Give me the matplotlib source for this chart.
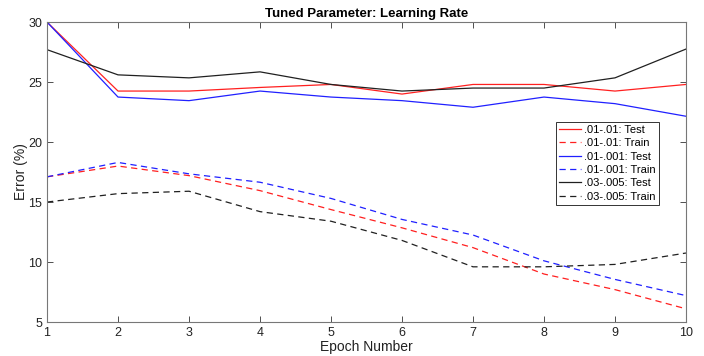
import matplotlib
matplotlib.use("Agg")
import matplotlib.pyplot as plt

plt.rcParams["font.family"] = ["Liberation Sans", "DejaVu Sans"]

# Datos
epocas = [1, 2, 3, 4, 5, 6, 7, 8, 9, 10]
rojo_test = [30.0, 24.25, 24.25, 24.55, 24.8, 24.0, 24.8, 24.8, 24.25, 24.8]
rojo_train = [17.1, 18.0, 17.2, 15.95, 14.37, 12.85, 11.2, 9.0, 7.7, 6.1]
azul_test = [30.0, 23.75, 23.45, 24.25, 23.75, 23.45, 22.9, 23.75, 23.2, 22.15]
azul_train = [17.1, 18.3, 17.35, 16.65, 15.3, 13.55, 12.25, 10.1, 8.55, 7.2]
negro_test = [27.7, 25.6, 25.35, 25.85, 24.8, 24.25, 24.5, 24.5, 25.35, 27.75]
negro_train = [15.0, 15.7, 15.9, 14.2, 13.4, 11.8, 9.6, 9.6, 9.8, 10.75]

etiquetas = [".01-.01: Test", ".01-.01: Train", ".01-.001: Test",
             ".01-.001: Train", ".03-.005: Test", ".03-.005: Train"]

fig = plt.figure(figsize=(7.04, 3.56), dpi=100)
ax = fig.add_axes([0.0668, 0.0955, 0.9076, 0.8425])

guiones = (0, (5, 3.5))
ax.plot(epocas, rojo_test, color="#ff2020", lw=0.9, label=etiquetas[0])
ax.plot(epocas, rojo_train, color="#ff2020", lw=0.9, ls=guiones, label=etiquetas[1])
ax.plot(epocas, azul_test, color="#2020ff", lw=0.9, label=etiquetas[2])
ax.plot(epocas, azul_train, color="#2020ff", lw=0.9, ls=guiones, label=etiquetas[3])
ax.plot(epocas, negro_test, color="#202020", lw=0.9, label=etiquetas[4])
ax.plot(epocas, negro_train, color="#202020", lw=0.9, ls=guiones, label=etiquetas[5])

ax.set_xlim(1, 10)
ax.set_ylim(5, 30)
ax.set_xticks(epocas)
ax.set_yticks([5, 10, 15, 20, 25, 30])
ax.tick_params(direction="in", top=True, right=True, labelsize=9,
               length=4, width=0.6, color="#333333", labelcolor="#222222")
for s in ax.spines.values():
    s.set_color("#777777")
    s.set_linewidth(0.8)

ax.set_title("Tuned Parameter: Learning Rate", fontsize=9.5, fontweight="bold", pad=4)
ax.set_xlabel("Epoch Number", fontsize=10, labelpad=1, color="#222222")
ax.set_ylabel("Error (%)", fontsize=10, labelpad=0, color="#222222")

leg = ax.legend(loc="upper right", bbox_to_anchor=(0.957, 0.668), fontsize=8,
                fancybox=False, framealpha=1, edgecolor="#333333",
                handlelength=2.0, handletextpad=0.2, borderpad=0.3,
                labelspacing=0.3, borderaxespad=0)
leg.get_frame().set_linewidth(0.7)

plt.savefig("out.png", dpi=100)
